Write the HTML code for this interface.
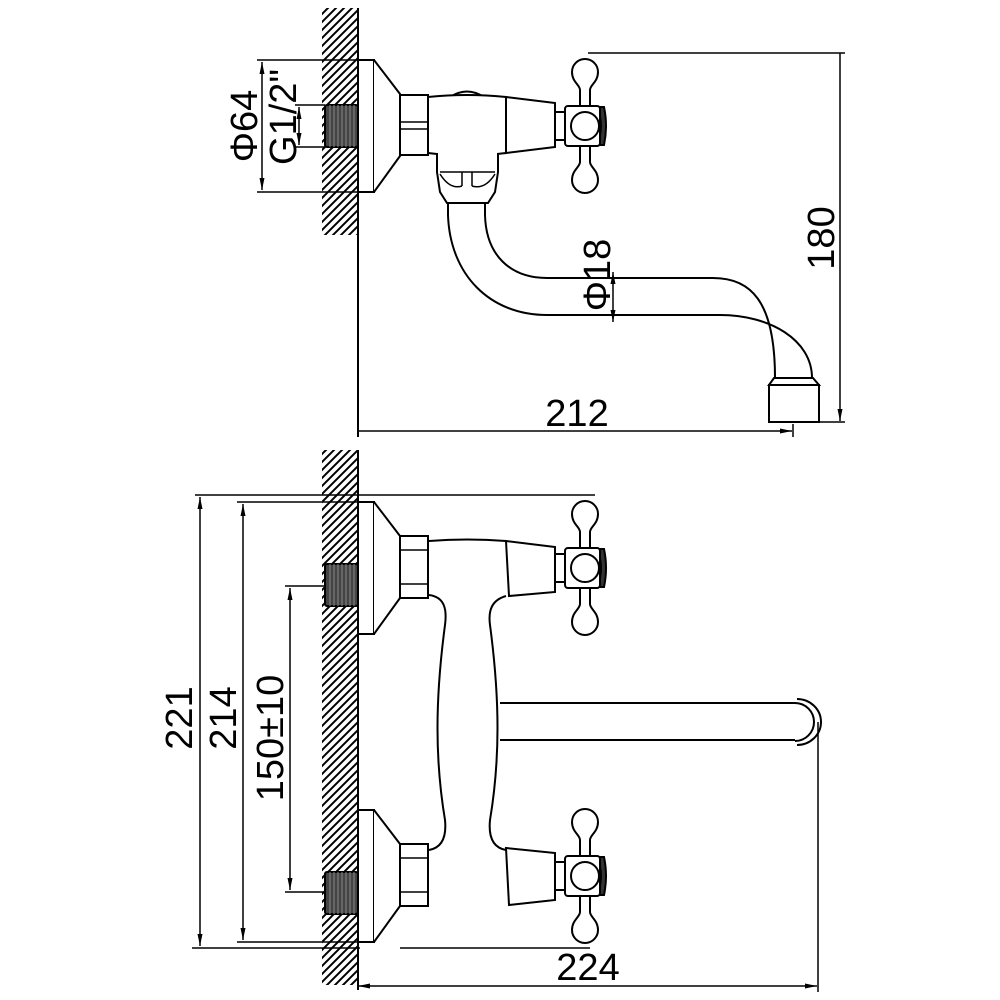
<!DOCTYPE html>
<html><head><meta charset="utf-8"><style>
html,body{margin:0;padding:0;background:#fff;}
svg{display:block;}
text{font-family:"Liberation Sans",sans-serif;font-size:38px;fill:#000;}
</style></head><body>
<svg width="1000" height="1000" viewBox="0 0 1000 1000" xmlns="http://www.w3.org/2000/svg">
<defs>
<pattern id="h" width="8" height="8" patternUnits="userSpaceOnUse">
<path d="M-2,2 L2,-2 M0,8 L8,0 M6,10 L10,6" stroke="#000" stroke-width="2"/>
</pattern>
<marker id="a" markerWidth="12" markerHeight="6" refX="12" refY="3" orient="auto-start-reverse" markerUnits="userSpaceOnUse">
<path d="M0,0.5 L12,3 L0,5.5 Z" fill="#000"/>
</marker>
<g id="handle" stroke="#000" stroke-width="2" fill="#fff">
<path d="M-5,-20 L-5,-36 C-5,-41 -13,-44 -13,-54 A13,13 0 1 1 13,-54 C13,-44 5,-41 5,-36 L5,-20 Z"/>
<path d="M-5,20 L-5,36 C-5,41 -13,44 -13,54 A13,13 0 1 0 13,54 C13,44 5,41 5,36 L5,20 Z"/>
<rect x="-30" y="-14" width="11" height="28"/>
<path d="M12,-19 Q20,0 12,19 L19,19 Q23,0 19,-19 Z" fill="#333"/>
<rect x="-20" y="-20" width="35" height="40" rx="3"/>
<circle cx="0" cy="0" r="14"/>
</g>
<g id="thread">
<rect x="325" y="0" width="33" height="42" fill="#444" rx="2"/>
<path d="M330,0V42M334,0V42M338,0V42M342,0V42M346,0V42M350,0V42M354,0V42" stroke="#888" stroke-width="1"/>
</g>
</defs>

<g fill="none" stroke="#000" stroke-width="2">
<rect x="322" y="8" width="36" height="227" fill="url(#h)" stroke="none"/>
<line x1="358" y1="8" x2="358" y2="437"/>
<use href="#thread" transform="translate(0,105)"/>
<path d="M257,60H374 M257,192H374" stroke-width="1.5"/>
<line x1="262" y1="62" x2="262" y2="190" stroke-width="1.5" marker-start="url(#a)" marker-end="url(#a)"/>
<path d="M295,105H325 M295,147H325" stroke-width="1.5"/>
<line x1="299" y1="107" x2="299" y2="145" stroke-width="1.5" marker-start="url(#a)" marker-end="url(#a)"/>
<rect x="358" y="60" width="16" height="132" fill="#fff"/>
<path d="M374,60 L400,94 L400,156 L374,192" fill="#fff"/>
<rect x="400" y="95" width="28" height="60" fill="#fff"/>
<path d="M400,122H428 M400,129H428" stroke-width="1.5"/>
<path d="M450,97 Q467,86 484,97" fill="#fff"/>
<path d="M428,97 Q467,93 506,97 L506,153 Q467,158 428,153 Z" fill="#fff"/>
<path d="M506,97 L555,103 L555,147 L506,153 Z" fill="#fff"/>
<path d="M437,153 L437,172 L440,192 L447,203 L488,203 L495,192 L498,172 L498,153" fill="#fff"/>
<path d="M440,172 H495 M440,174 Q450,190 462,186 M495,174 Q485,190 472,186 M462,172V186 M472,172V186" stroke-width="1.5"/>
<path d="M448,203 L448,215 C450,275 490,315 547,315 L720,315 C770,315 812,340 812,378"/>
<path d="M485,203 L485,215 C486,255 510,278 547,278 L713,278 C750,278 775,300 775,378"/>
<path d="M774,378 H813 L819,385 H769 Z" fill="#fff"/>
<rect x="769" y="385" width="50" height="37" fill="#fff"/>
<line x1="613" y1="272" x2="613" y2="322" stroke-width="1.5" marker-start="url(#a)" marker-end="url(#a)"/>
<path d="M588,53H845 M820,422H845" stroke-width="1.5"/>
<line x1="840" y1="53" x2="840" y2="421" stroke-width="1.5" marker-end="url(#a)"/>
<line x1="358" y1="431" x2="792" y2="431" stroke-width="1.5" marker-end="url(#a)"/>
<line x1="793" y1="424" x2="793" y2="437" stroke-width="1.5"/>

<rect x="322" y="450" width="36" height="535" fill="url(#h)" stroke="none"/>
<line x1="358" y1="450" x2="358" y2="990"/>
<use href="#thread" transform="translate(0,564)"/>
<use href="#thread" transform="translate(0,872)"/>
<path d="M195,495H595 M192,948H360" stroke-width="1.5"/>
<line x1="200" y1="497" x2="200" y2="946" stroke-width="1.5" marker-start="url(#a)" marker-end="url(#a)"/>
<path d="M237,502H374 M237,942H374" stroke-width="1.5"/>
<line x1="243" y1="504" x2="243" y2="940" stroke-width="1.5" marker-start="url(#a)" marker-end="url(#a)"/>
<path d="M285,586H325 M285,892H325" stroke-width="1.5"/>
<line x1="290" y1="588" x2="290" y2="890" stroke-width="1.5" marker-start="url(#a)" marker-end="url(#a)"/>
<rect x="358" y="502" width="16" height="132" fill="#fff"/>
<path d="M374,502 L400,536 L400,598 L374,634" fill="#fff"/>
<rect x="400" y="536" width="28" height="62" fill="#fff"/>
<path d="M400,550H428 M400,584H428" stroke-width="1.5"/>
<rect x="358" y="810" width="16" height="132" fill="#fff"/>
<path d="M374,810 L400,844 L400,906 L374,942" fill="#fff"/>
<rect x="400" y="844" width="28" height="62" fill="#fff"/>
<path d="M400,858H428 M400,892H428" stroke-width="1.5"/>
<path d="M429,541 Q467,538 506,541"/>
<path d="M429,595 C445,597 447,610 445,625 C435,700 435,760 445,820 C447,840 440,848 429,850"/>
<path d="M506,596 C492,600 488,610 490,625 C500,700 500,760 490,820 C488,840 495,848 506,850"/>
<path d="M506,541 L555,547 L555,592 L509,596 Z" fill="#fff"/>
<path d="M506,848 L555,853 L555,900 L509,905 Z" fill="#fff"/>
<path d="M500,703 H795 M500,740 H795"/>
<path d="M795,703 A19,19 0 0 1 795,741" stroke-width="2"/>
<path d="M797,699 A24,23 0 0 1 797,745" stroke-width="2"/>
<line x1="818" y1="722" x2="818" y2="992" stroke-width="1.5"/>
<line x1="358" y1="986" x2="817" y2="986" stroke-width="1.5" marker-start="url(#a)" marker-end="url(#a)"/>
<line x1="400" y1="948" x2="590" y2="948" stroke-width="1.5"/>
</g>

<use href="#handle" transform="translate(585,126)"/>
<use href="#handle" transform="translate(585,568)"/>
<use href="#handle" transform="translate(585,876)"/>

<text transform="translate(257,126) rotate(-90)" text-anchor="middle">Φ64</text>
<text transform="translate(296,117) rotate(-90)" text-anchor="middle">G1/2"</text>
<text transform="translate(610,275) rotate(-90)" text-anchor="middle">Φ18</text>
<text transform="translate(834,238) rotate(-90)" text-anchor="middle">180</text>
<text x="577" y="426" text-anchor="middle">212</text>
<text transform="translate(192,718) rotate(-90)" text-anchor="middle">221</text>
<text transform="translate(236,718) rotate(-90)" text-anchor="middle">214</text>
<text transform="translate(283,738) rotate(-90)" text-anchor="middle">150±10</text>
<text x="588" y="980" text-anchor="middle">224</text>
</svg>
</body></html>
